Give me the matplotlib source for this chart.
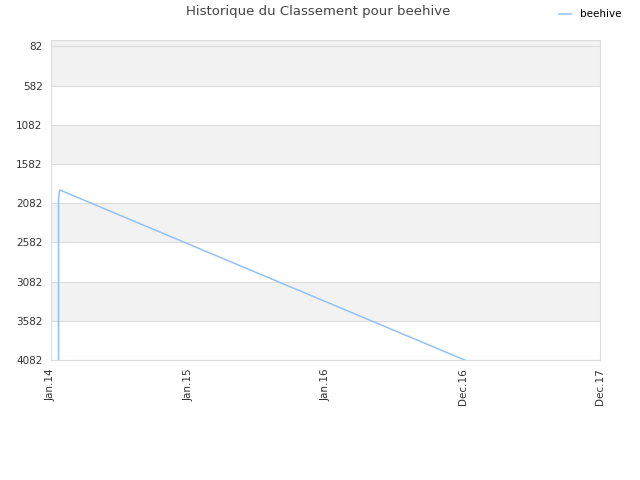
import matplotlib
matplotlib.use("Agg")
import matplotlib.pyplot as plt
from datetime import datetime

# rank history
dates = ["2014-01-21", "2014-01-21", "2014-01-21", "2014-01-21", "2014-01-22",
         "2014-01-23", "2014-01-25", "2017-01-14"]
ranks = [4300, 2400, 2200, 2050, 1990, 1940, 1915, 4100]

yticks = [82, 582, 1082, 1582, 2082, 2582, 3082, 3582, 4082]
xtick_dates = ["2014-01-01", "2015-01-01", "2016-01-01", "2016-12-31", "2017-12-31"]
xtick_labels = ["Jan.14", "Jan.15", "Jan.16", "Dec.16", "Dec.17"]

xs = [datetime.strptime(d, "%Y-%m-%d") for d in dates]
xt = [datetime.strptime(d, "%Y-%m-%d") for d in xtick_dates]

fig = plt.figure(figsize=(6.4, 4.8), dpi=100)
ax = fig.add_axes([51/640, 120/480, 549/640, 320/480])

# alternating grey bands
band_edges = [0] + yticks
for i in range(len(band_edges) - 1):
    if i in (0, 1, 3, 5, 7):
        ax.axhspan(band_edges[i], band_edges[i + 1], color="#f2f2f2", zorder=0, lw=0)

ax.plot(xs, ranks, color="#92c1f4", lw=1.1, label="beehive", zorder=3)

ax.set_ylim(4082, 0)
ax.set_xlim(xt[0], xt[-1])
ax.set_yticks(yticks)
ax.set_yticklabels([str(v) for v in yticks])
ax.set_xticks(xt)
ax.set_xticklabels(xtick_labels, rotation=90)
ax.tick_params(length=0, labelsize=7.5, colors="#333333", pad=6)
ax.grid(True, axis="y", color="#dddddd", lw=0.8, zorder=1)
ax.set_axisbelow(True)
for s in ax.spines.values():
    s.set_color("#dddddd")

fig.text(318/640, 1 - 12/480, "Historique du Classement pour beehive",
         ha="center", va="center", fontsize=9.5, color="#444444")
fig.legend(loc="upper right", bbox_to_anchor=(0.985, 1.0), frameon=False,
           fontsize=7.5, handlelength=1.2)

fig.savefig("out.png", dpi=100)
